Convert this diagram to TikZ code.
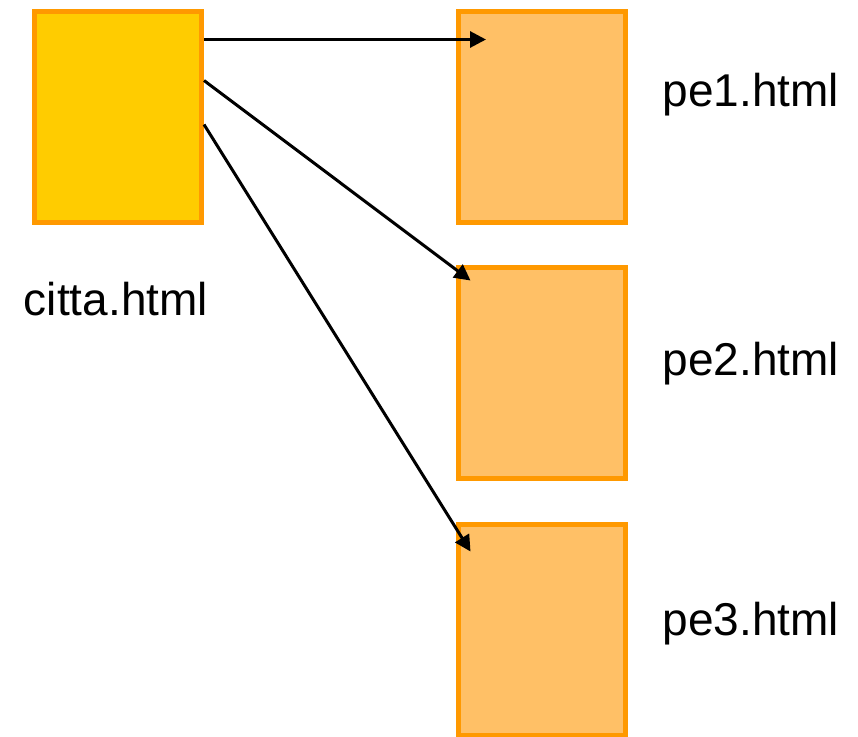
\documentclass[tikz,border=0pt]{standalone}
\usepackage{fontspec}
\setmainfont{Liberation Sans}
\usetikzlibrary{arrows.meta}

\definecolor{pagegold}{HTML}{FFCC00}
\definecolor{pagelight}{HTML}{FFC066}
\definecolor{pageedge}{HTML}{FF9900}

\begin{document}
\begin{tikzpicture}[x=1pt,y=1pt,
    page/.style={draw=pageedge,line width=5pt,minimum width=167pt,minimum height=211pt,inner sep=0pt},
    link/.style={line width=3pt,-{Triangle[length=16pt,width=16pt]}},
    fname/.style={anchor=base,inner sep=0pt,font=\fontsize{46}{50}\selectfont}]
        \useasboundingbox (0,0) rectangle (858,-736);

        % Pages
        \node[page,fill=pagegold] (citta) at (118,-116.5) {};
        \node[page,fill=pagelight] (pe1) at (542,-116.5) {};
        \node[page,fill=pagelight] (pe2) at (542,-373) {};
        \node[page,fill=pagelight] (pe3) at (542,-630) {};

        % File names
        \node[fname] (lcitta) at (116,-315) {citta.html};
        \node[fname] (lpe1) at (751,-106) {pe1.html};
        \node[fname] (lpe2) at (751,-375) {pe2.html};
        \node[fname] (lpe3) at (751,-635) {pe3.html};

        % Links
        \draw[link] ([yshift=-31pt]citta.north east) -- ([xshift=30pt,yshift=-31pt]pe1.north west);
        \draw[link] ([yshift=-72pt]citta.north east) -- ([xshift=14.5pt,yshift=-15.5pt]pe2.north west);
        \draw[link] ([yshift=-116pt]citta.north east) -- ([xshift=14.5pt,yshift=-29.5pt]pe3.north west);
    \end{tikzpicture}
\end{document}
